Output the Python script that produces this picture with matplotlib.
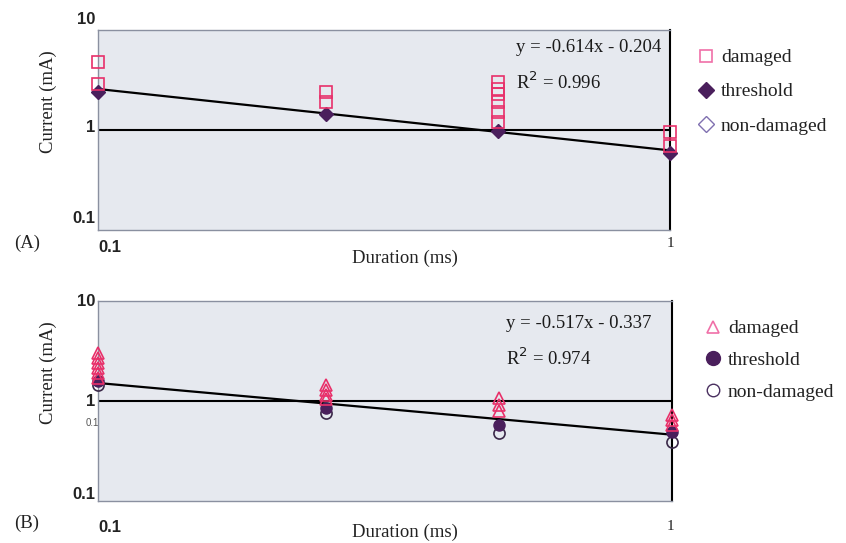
import numpy as np
import matplotlib
matplotlib.use("Agg")
import matplotlib.pyplot as plt
from matplotlib.lines import Line2D

# stimulus durations (ms)
durations = [0.1, 0.25, 0.5, 1.0]

# panel A: currents (mA) per duration
a_damaged = [[4.8, 2.9], [2.4, 1.9], [3.0, 2.6, 2.3, 1.9, 1.5, 1.2], [0.96, 0.69]]
a_threshold = [2.4, 1.45, 0.98, 0.59]
a_fit = (-0.614, -0.204, 0.996)  # slope, intercept (log10 space), R^2

# panel B: currents (mA) per duration
b_damaged = [[3.0, 2.7, 2.4, 2.15, 1.9, 1.7], [1.45, 1.3, 1.15, 1.05],
             [1.07, 0.92, 0.8], [0.72, 0.65, 0.58]]
b_threshold = [1.58, 0.85, 0.58, 0.49]
b_nondamaged = [1.45, 0.76, 0.48, 0.39]
b_fit = (-0.517, -0.337, 0.974)

y_ticks = [10, 1, 0.1]
y_tick_labels = ["10", "1", "0.1"]
legend_labels = ["damaged", "threshold", "non-damaged"]

W, H = 846, 543
PINK = "#e8306a"
PURPLE = "#4a1f5c"
SERIF = "Liberation Serif"
SANS = "Liberation Sans"


def px(x, y):
    return x / W, 1 - y / H


def flat(groups):
    xs, ys = [], []
    for d, vals in zip(durations, groups):
        xs += [d] * len(vals)
        ys += vals
    return xs, ys


def setup_axes(ax):
    ax.set_xscale("log")
    ax.set_yscale("log")
    ax.set_xlim(0.1, 1)
    ax.set_ylim(0.1, 10)
    ax.set_facecolor("#e6e9ef")
    for side in ["left", "top", "bottom"]:
        ax.spines[side].set_color("#8a90a0")
        ax.spines[side].set_linewidth(1)
    ax.spines["right"].set_color("black")
    ax.spines["right"].set_linewidth(1.5)
    ax.set_xticks([])
    ax.set_yticks([])
    ax.minorticks_off()
    ax.axhline(1, color="black", lw=1.5, zorder=2)


def draw_fit(ax, fit):
    slope, icpt, r2 = fit
    xs = np.logspace(-1, 0, 50)
    ax.plot(xs, 10 ** (slope * np.log10(xs) + icpt), color="black", lw=1.6, zorder=3)


def ylabels(ax, offsets):
    for val, lab, off in zip(y_ticks, y_tick_labels, offsets):
        ax.annotate(lab, xy=(0, val), xycoords=ax.get_yaxis_transform(),
                    xytext=(-2, off), textcoords="offset points",
                    ha="right", va="center", fontsize=12, fontweight="bold",
                    family=SANS, color="#222222")


def fit_text(fit, x, y):
    slope, icpt, r2 = fit
    fig.text(*px(x, y), "y = %.3fx - %.3f" % (slope, -icpt), fontsize=13.5,
             family=SERIF, va="center", color="#1a1a1a")
    fig.text(*px(x, y + 35), r"R$^2$ = %.3f" % r2, fontsize=13.5,
             family=SERIF, va="center", color="#1a1a1a")


fig = plt.figure(figsize=(W / 100, H / 100), dpi=100)
fig.patch.set_facecolor("white")

axA = fig.add_axes([98 / W, 1 - 230 / H, 572 / W, 200 / H])
axB = fig.add_axes([98 / W, 1 - 501 / H, 574 / W, 200 / H])

# ---- panel A
setup_axes(axA)
draw_fit(axA, a_fit)
x, y = flat(a_damaged)
axA.plot(x, y, ls="none", marker="s", ms=8, mfc="none", mec=PINK, mew=1.2,
         clip_on=False, zorder=5)
axA.plot(durations, a_threshold, ls="none", marker="D", ms=7, color=PURPLE,
         clip_on=False, zorder=4)
ylabels(axA, [7.5, 1.5, 8.5])
fit_text(a_fit, 516, 47)

# ---- panel B
setup_axes(axB)
draw_fit(axB, b_fit)
x, y = flat(b_damaged)
axB.plot(x, y, ls="none", marker="^", ms=8, mfc="none", mec=PINK, mew=1.2,
         clip_on=False, zorder=5)
axB.plot(durations, b_nondamaged, ls="none", marker="o", ms=8, mfc="none",
         mec="#3a2848", mew=1.2, clip_on=False, zorder=4)
axB.plot(durations, b_threshold, ls="none", marker="o", ms=8, color=PURPLE,
         clip_on=False, zorder=4)
ylabels(axB, [0, 0, 5])
fig.text(*px(92, 423), "0.1", fontsize=7, family=SANS, color="#555555",
         ha="center", va="center")
fit_text(b_fit, 506, 323)

# axis labels, tick labels, panel letters
for top, xlab_y, tick_y, tick1_y, letter in [(30, 258, 247, 243, "(A)"),
                                             (301, 532, 527, 526, "(B)")]:
    fig.text(*px(110, tick_y), "0.1", fontsize=12, fontweight="bold",
             family=SANS, ha="center", va="center", color="#222222")
    fig.text(*px(670, tick1_y), "1", fontsize=11, family=SERIF,
             ha="center", va="center", color="#222222")
    fig.text(*px(405, xlab_y), "Duration (ms)", fontsize=13.5, family=SERIF,
             ha="center", va="center", color="#222222")
    fig.text(*px(48, top + 72), "Current (mA)", fontsize=13.5, family=SERIF,
             rotation=90, ha="center", va="center", color="#222222")
    fig.text(*px(27, tick_y - 4), letter, fontsize=13.5, family=SERIF,
             ha="center", va="center", color="#222222")

# legends
handles_a = [
    Line2D([], [], ls="none", marker="s", ms=9, mfc="none", mec="#f070a8", mew=1.2),
    Line2D([], [], ls="none", marker="D", ms=8, color=PURPLE),
    Line2D([], [], ls="none", marker="D", ms=8, mfc="none", mec="#8070b0", mew=1),
]
handles_b = [
    Line2D([], [], ls="none", marker="^", ms=9, mfc="none", mec="#f070a8", mew=1.2),
    Line2D([], [], ls="none", marker="o", ms=10, color=PURPLE),
    Line2D([], [], ls="none", marker="o", ms=9, mfc="none", mec="#4a3060", mew=1),
]
for handles, (lx, ly), spacing in [(handles_a, (688, 39), 0.85),
                                   (handles_b, (695, 310), 0.72)]:
    fig.legend(handles, legend_labels, loc="upper left",
               bbox_to_anchor=px(lx, ly), frameon=False,
               prop={"family": SERIF, "size": 14}, handlelength=0.8,
               handletextpad=0.4, labelspacing=spacing, borderpad=0,
               labelcolor="#222222")

fig.savefig("out.png", dpi=100)
